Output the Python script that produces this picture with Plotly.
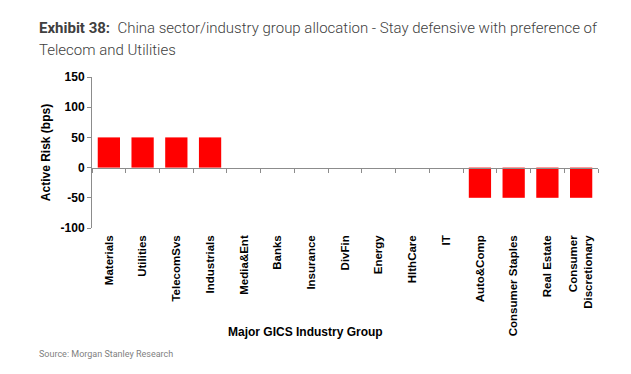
import plotly.graph_objects as go

categories = ["Materials", "Utilities", "TelecomSvs", "Industrials", "Media&Ent", "Banks",
              "Insurance", "DivFin", "Energy", "HlthCare", "IT", "Auto&Comp",
              "Consumer Staples", "Real Estate", "Consumer<br>Discretionary"]
active_risk = [50, 50, 50, 50, 0, 0, 0, 0, 0, 0, 0, -50, -50, -50, -50]
y_ticks = [-100, -50, 0, 50, 100, 150]
y_ticktext = ["-100", "-50", "0", "50", "100", "150"]

OFF = 8  # page body margin
W, H = 631 - OFF, 374 - OFF
L, T = 92 - OFF, 77 - OFF
R = W - (598 - OFF)
B = H - (228.3 - OFF)
PW, PH = W - L - R, H - T - B


def px(xp):
    return (xp - OFF - L) / PW


def py(yp):
    return 1 - (yp - OFF - T) / PH


fig = go.Figure()
fig.add_trace(go.Bar(x=categories, y=active_risk, marker_color="#FF0000",
                     marker_line_width=0, showlegend=False, hoverinfo="skip"))
# invisible duplicate to carry the zero-line category axis
fig.add_trace(go.Scatter(x=categories, y=active_risk, xaxis="x2", mode="markers",
                         marker=dict(opacity=0), showlegend=False, hoverinfo="skip"))

n = len(categories)
axis_col = "#8C8C8C"
AF = "Liberation Sans, Arial, sans-serif"
fig.update_layout(
    width=W, height=H,
    margin=dict(l=L, r=R, t=T, b=B, pad=0),
    plot_bgcolor="white", paper_bgcolor="white",
    bargap=0.34,
    font=dict(family=AF, color="black"),
    xaxis=dict(
        type="category", range=[-0.5, n - 0.5], autorange=False,
        showline=False, showgrid=False, zeroline=False,
        ticks="", tickangle=-90, ticklabelstandoff=4,
        tickfont=dict(size=11.5, family=AF, color="black", weight="bold"),
    ),
    xaxis2=dict(
        type="category", overlaying="x", matches="x", anchor="free",
        position=100 / 250, showline=True, linecolor=axis_col, linewidth=1,
        ticks="outside", tickson="boundaries", ticklen=4, tickcolor=axis_col,
        showticklabels=False, showgrid=False, zeroline=False,
    ),
    yaxis=dict(
        range=[-100, 150], tickvals=y_ticks, ticktext=y_ticktext,
        showgrid=False, zeroline=False,
        showline=True, linecolor=axis_col, linewidth=1,
        ticks="outside", ticklen=4, tickcolor=axis_col,
        tickfont=dict(size=12, family=AF, color="black", weight="bold"),
        title=dict(text="Active Risk (bps)", standoff=7,
                   font=dict(size=12, family=AF, color="black", weight="bold")),
    ),
)

TF = "Roboto, sans-serif"
fig.add_annotation(
    text="<b>Exhibit 38:</b>  China sector/industry group allocation - Stay defensive with preference of",
    xref="paper", yref="paper", x=px(37), y=py(28),
    xanchor="left", yanchor="middle", showarrow=False,
    font=dict(family=TF, size=15, color="#404040", weight=300),
)
fig.add_annotation(
    text="Telecom and Utilities",
    xref="paper", yref="paper", x=px(37), y=py(50),
    xanchor="left", yanchor="middle", showarrow=False,
    font=dict(family=TF, size=15, color="#404040", weight=300),
)
fig.add_annotation(
    text="<b>Major GICS Industry Group</b>",
    xref="paper", yref="paper", x=px(305), y=py(333),
    xanchor="center", yanchor="middle", showarrow=False,
    font=dict(family=AF, size=12, color="black"),
)
fig.add_annotation(
    text="Source: Morgan Stanley Research",
    xref="paper", yref="paper", x=px(37), y=py(355),
    xanchor="left", yanchor="middle", showarrow=False,
    font=dict(family=TF, size=9, color="#7F7F7F"),
)

fig.write_html("out.html")
